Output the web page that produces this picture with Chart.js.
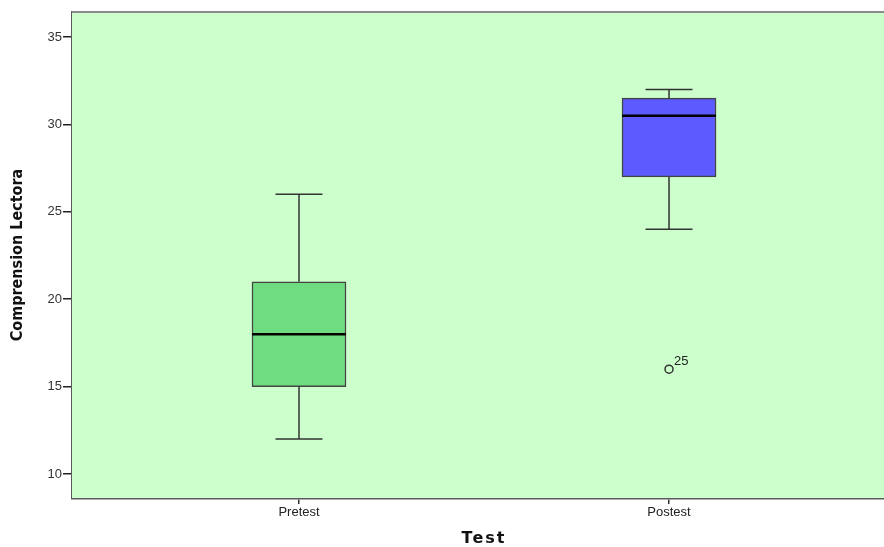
<!DOCTYPE html>
<html>
<head>
<meta charset="utf-8">
<script src="https://cdn.jsdelivr.net/npm/chart.js@4.4.1/dist/chart.umd.min.js"></script>
<style>
  html, body { margin: 0; padding: 0; background: #fff; overflow: hidden; }
  canvas { display: block; }
</style>
</head>
<body>
<canvas id="boxChart" width="884" height="547"></canvas>
<script>
// datos
const categories = ["Pretest", "Postest"];
const minValues = [12, 24];
const q1Values = [15, 27];
const medianValues = [18, 30.5];
const q3Values = [21, 31.5];
const maxValues = [26, 32];
const outlierValues = [{ cat: 2, y: 16, label: "25" }];
const yTicks = [10, 15, 20, 25, 30, 35];
const boxColors = ["#70DC82", "#5B5BFF"];
const xTitle = "Test";

const plotBg = "#CCFFCC";
const lineColor = "#333333";

// fondo del area y whiskers, mediana, etiqueta del atipico
const boxplotPlugin = {
  id: "boxplotExtras",
  beforeDatasetsDraw(chart) {
    const { ctx, chartArea, scales } = chart;
    ctx.save();
    ctx.fillStyle = plotBg;
    ctx.fillRect(chartArea.left, chartArea.top,
      chartArea.right - chartArea.left, chartArea.bottom - chartArea.top);
    ctx.strokeStyle = "#8a8a8a";
    ctx.lineWidth = 2;
    ctx.beginPath();
    ctx.moveTo(chartArea.left, chartArea.top);
    ctx.lineTo(chartArea.right, chartArea.top);
    ctx.stroke();

    const capHalf = 23.5;
    ctx.strokeStyle = lineColor;
    ctx.lineWidth = 1.5;
    categories.forEach((_, i) => {
      const x = scales.x.getPixelForValue(i + 1);
      const yMin = scales.y.getPixelForValue(minValues[i]);
      const yQ1 = scales.y.getPixelForValue(q1Values[i]);
      const yQ3 = scales.y.getPixelForValue(q3Values[i]);
      const yMax = scales.y.getPixelForValue(maxValues[i]);
      ctx.beginPath();
      ctx.moveTo(x, yQ3); ctx.lineTo(x, yMax);
      ctx.moveTo(x - capHalf, yMax); ctx.lineTo(x + capHalf, yMax);
      ctx.moveTo(x, yQ1); ctx.lineTo(x, yMin);
      ctx.moveTo(x - capHalf, yMin); ctx.lineTo(x + capHalf, yMin);
      ctx.stroke();
    });
    ctx.restore();
  },
  afterDatasetsDraw(chart) {
    const { ctx, scales } = chart;
    ctx.save();
    ctx.strokeStyle = "#000";
    ctx.lineWidth = 2.5;
    categories.forEach((_, i) => {
      const x = scales.x.getPixelForValue(i + 1);
      const y = scales.y.getPixelForValue(medianValues[i]);
      ctx.beginPath();
      ctx.moveTo(x - 47, y);
      ctx.lineTo(x + 47, y);
      ctx.stroke();
    });
    ctx.fillStyle = "#222";
    ctx.font = "13px 'Liberation Sans', Arial, sans-serif";
    ctx.textBaseline = "alphabetic";
    outlierValues.forEach((o) => {
      const x = scales.x.getPixelForValue(o.cat);
      const y = scales.y.getPixelForValue(o.y);
      ctx.fillText(o.label, x + 5, y - 4);
    });

    // titulo del eje x con espaciado de letras
    ctx.fillStyle = "#111";
    ctx.font = "bold 16px 'DejaVu Sans', Arial, sans-serif";
    ctx.letterSpacing = "2px";
    ctx.textAlign = "center";
    ctx.textBaseline = "middle";
    ctx.fillText(xTitle, scales.x.getPixelForValue(1.5), 539);
    ctx.restore();
  },
};

new Chart(document.getElementById("boxChart"), {
  type: "scatter",
  data: {
    datasets: [
      {
        type: "bar",
        data: categories.map((c, i) => ({ x: i + 1, y: [q1Values[i], q3Values[i]] })),
        backgroundColor: boxColors,
        borderColor: "#444",
        borderWidth: 1.5,
        borderSkipped: false,
        barThickness: 94,
      },
      {
        type: "scatter",
        data: outlierValues.map((o) => ({ x: o.cat, y: o.y })),
        pointStyle: "circle",
        pointRadius: 4,
        pointBackgroundColor: "rgba(0,0,0,0)",
        pointBorderColor: lineColor,
        pointBorderWidth: 1.5,
      },
    ],
  },
  options: {
    responsive: false,
    devicePixelRatio: 1,
    animation: false,
    layout: { autoPadding: false, padding: { top: 12, right: 0, left: 0, bottom: 0 } },
    plugins: { legend: { display: false }, tooltip: { enabled: false } },
    scales: {
      x: {
        type: "linear",
        min: 0.3865,
        max: 2.581,
        offset: false,
        afterBuildTicks: (scale) => {
          scale.ticks = categories.map((_, i) => ({ value: i + 1 }));
        },
        afterFit: (scale) => {
          scale.height = 49;
          scale.paddingLeft = 0;
          scale.paddingRight = 0;
        },
        ticks: {
          callback: (v) => categories[v - 1] || "",
          color: "#222",
          font: { family: "'Liberation Sans', Arial, sans-serif", size: 13 },
          padding: 1,
          maxRotation: 0,
        },
        grid: { offset: false, drawOnChartArea: false, drawTicks: true, tickLength: 6, color: lineColor, lineWidth: 1.5 },
        border: { display: true, color: "#5a5a5a", width: 2.5 },
        title: { display: false },
      },
      y: {
        type: "linear",
        min: 8.63,
        max: 36.43,
        afterBuildTicks: (scale) => {
          scale.ticks = yTicks.map((v) => ({ value: v }));
        },
        afterFit: (scale) => { scale.width = 72; },
        ticks: {
          color: "#333",
          font: { family: "'Liberation Sans', Arial, sans-serif", size: 13 },
          padding: 1,
        },
        grid: { drawOnChartArea: false, drawTicks: true, tickLength: 9, color: "#222", lineWidth: 1.5 },
        border: { display: true, color: "#5a5a5a", width: 2.5 },
        title: {
          display: true,
          text: "Comprension Lectora",
          color: "#111",
          font: { family: "'Liberation Sans Narrow', 'DejaVu Sans Condensed', Arial, sans-serif", size: 16, weight: "bold" },
          padding: { top: 8, bottom: 0 },
        },
      },
    },
  },
  plugins: [boxplotPlugin],
});
</script>
</body>
</html>
